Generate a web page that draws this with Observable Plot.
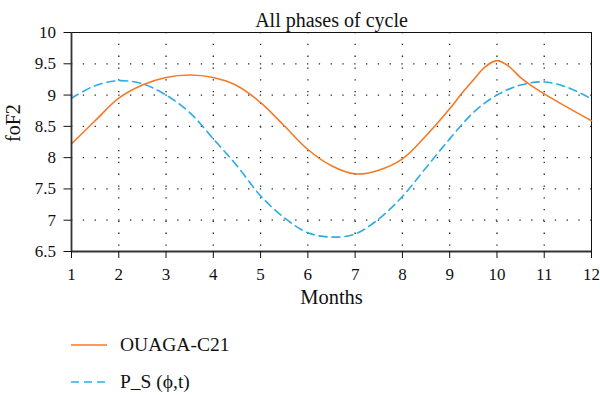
<!DOCTYPE html>
<html>
<head>
<meta charset="utf-8">
<script src="https://cdn.jsdelivr.net/npm/d3@7"></script>
<script src="https://cdn.jsdelivr.net/npm/@observablehq/plot@0.6"></script>
<style>
  html, body { margin: 0; padding: 0; background: #fff; }
  #wrap { width: 600px; height: 395px; overflow: hidden; font-family: "Liberation Serif", "DejaVu Serif", serif; }
  .legend { padding-left: 71px; margin-top: 5px; }
  .row { height: 37px; display: flex; align-items: center; font-size: 19.5px; color: #111; }
  .row svg { margin-right: 13px; }
</style>
</head>
<body>
<div id="wrap"></div>
<script>
const title = "All phases of cycle";
const xLabel = "Months";
const yLabel = "foF2";
const seriesNames = ["OUAGA-C21", "P_S (\u03d5,t)"];
const monthTicks = [1, 2, 3, 4, 5, 6, 7, 8, 9, 10, 11, 12];
const valueTicks = [6.5, 7, 7.5, 8, 8.5, 9, 9.5, 10];
const months = [1, 1.5, 2, 2.5, 3, 3.5, 4, 4.5, 5, 5.5, 6, 6.5, 7, 7.5, 8, 8.5, 9, 9.25, 9.5, 9.75, 10, 10.25, 10.5, 10.75, 11, 11.5, 12];
const ouaga = [8.22, 8.59, 8.95, 9.16, 9.28, 9.32, 9.28, 9.15, 8.88, 8.51, 8.13, 7.87, 7.74, 7.80, 7.98, 8.35, 8.78, 9.02, 9.24, 9.45, 9.55, 9.46, 9.28, 9.14, 9.02, 8.80, 8.59];
const psMonths = [1, 1.5, 2, 2.5, 3, 3.5, 4, 4.5, 5, 5.5, 6, 6.5, 7, 7.5, 8, 8.5, 9, 9.5, 10, 10.5, 11, 11.5, 12];
const ps = [8.95, 9.15, 9.23, 9.18, 9.00, 8.72, 8.30, 7.87, 7.39, 7.04, 6.80, 6.73, 6.78, 7.02, 7.38, 7.84, 8.30, 8.72, 9.00, 9.16, 9.21, 9.12, 8.94];

const colors = ["#f37a25", "#2bade3"];
const dash = "8,5";
const serif = "Liberation Serif, DejaVu Serif, serif";

const d1 = months.map((m, i) => ({month: m, value: ouaga[i]}));
const d2 = psMonths.map((m, i) => ({month: m, value: ps[i]}));

const gridStyle = {stroke: "#222", strokeWidth: 1.3, strokeDasharray: "1.3,10.5"};

const plot = Plot.plot({
  width: 600,
  height: 321,
  marginLeft: 71,
  marginRight: 9,
  marginTop: 32,
  marginBottom: 70,
  style: {fontFamily: serif, fontSize: "17px", color: "#111", background: "#fff"},
  x: {domain: [1, 12]},
  y: {domain: [6.5, 10]},
  marks: [
    Plot.ruleX(monthTicks.slice(1, -1), {...gridStyle}),
    Plot.ruleY(valueTicks.slice(1, -1), {...gridStyle}),
    Plot.ruleY([10], {stroke: "#111", strokeWidth: 1}),
    Plot.ruleX([12], {stroke: "#111", strokeWidth: 1}),
    Plot.line(d2, {x: "month", y: "value", stroke: colors[1], strokeWidth: 1.6, strokeDasharray: dash, curve: "catmull-rom"}),
    Plot.line(d1, {x: "month", y: "value", stroke: colors[0], strokeWidth: 1.6, curve: "catmull-rom"}),
    Plot.ruleX([1], {stroke: "#333", strokeWidth: 1.8}),
    Plot.ruleY([6.5], {stroke: "#333", strokeWidth: 1.8}),
    Plot.axisX({ticks: monthTicks, tickSize: 7, tickPadding: 9, label: null, fontSize: 17, fontFamily: serif, tickFormat: d => String(d)}),
    Plot.axisY({ticks: valueTicks, tickSize: 7.5, tickPadding: 8, label: null, fontSize: 17, fontFamily: serif, tickFormat: d => String(d)}),
    Plot.text([title], {frameAnchor: "top", dy: -20, fontSize: 20, fontFamily: serif}),
    Plot.text([xLabel], {frameAnchor: "bottom", dy: 52, fontSize: 20.5, fontFamily: serif}),
    Plot.text([yLabel], {frameAnchor: "left", dx: -58, rotate: -90, fontSize: 20, fontFamily: serif})
  ]
});

const wrap = document.getElementById("wrap");
wrap.appendChild(plot);

const legend = document.createElement("div");
legend.className = "legend";
seriesNames.forEach((name, i) => {
  const row = document.createElement("div");
  row.className = "row";
  const sw = d3.create("svg").attr("width", 36).attr("height", 6);
  sw.append("line").attr("x1", 0).attr("x2", 36).attr("y1", 3).attr("y2", 3)
    .attr("stroke", colors[i]).attr("stroke-width", 1.6)
    .attr("stroke-dasharray", i === 1 ? dash : null);
  row.appendChild(sw.node());
  const t = document.createElement("span");
  t.textContent = name;
  row.appendChild(t);
  legend.appendChild(row);
});
wrap.appendChild(legend);
</script>
</body>
</html>
